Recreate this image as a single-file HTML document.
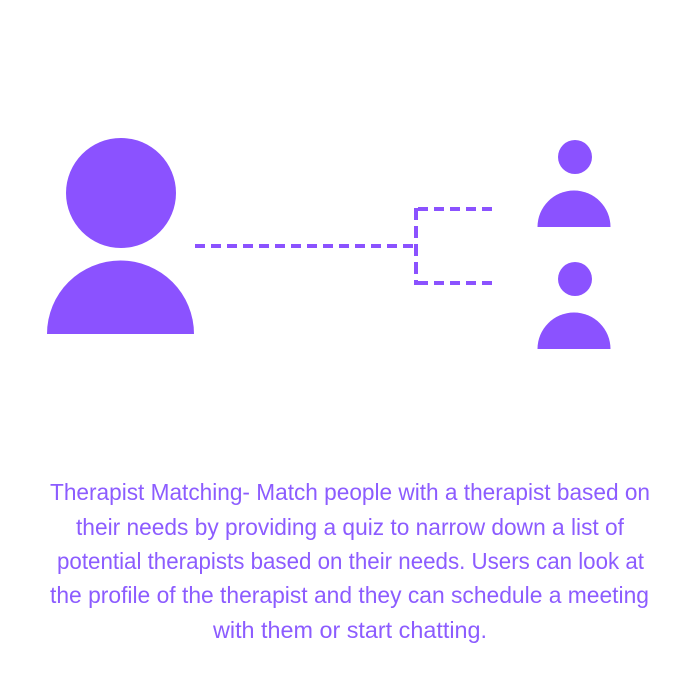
<!DOCTYPE html>
<html><head><meta charset="utf-8"><style>
html,body{margin:0;padding:0;background:#fff;}
svg{display:block}
</style></head><body>
<svg width="700" height="700" viewBox="0 0 700 700">
  <g fill="#8b52ff">
    <circle cx="121" cy="193" r="55"/>
    <path d="M47,334 A73.5,73.5 0 0 1 194,334 Z"/>
  </g>
  <g stroke="#8b52ff" stroke-width="4" fill="none" stroke-dasharray="10,6">
    <line x1="195" y1="246" x2="416" y2="246"/>
    <line x1="416" y1="208" x2="416" y2="285" stroke-dasharray="12,6"/>
    <line x1="418" y1="209" x2="496" y2="209"/>
    <line x1="418" y1="283" x2="496" y2="283"/>
  </g>
  <g fill="#8b52ff">
    <circle cx="575" cy="157" r="17"/>
    <path d="M537.5,227 A36.5,36.5 0 0 1 610.5,227 Z"/>
  </g>
  <g fill="#8b52ff">
    <circle cx="575" cy="279" r="17"/>
    <path d="M537.5,349 A36.5,36.5 0 0 1 610.5,349 Z"/>
  </g>
  <g fill="#8c5cff" font-family="Liberation Sans, sans-serif" font-size="23">
    <text x="50" y="500" textLength="600" lengthAdjust="spacingAndGlyphs">Therapist Matching- Match people with a therapist based on</text>
    <text x="76" y="535" textLength="548" lengthAdjust="spacingAndGlyphs">their needs by providing a quiz to narrow down a list of</text>
    <text x="57" y="569" textLength="587" lengthAdjust="spacingAndGlyphs">potential therapists based on their needs. Users can look at</text>
    <text x="50" y="603" textLength="599" lengthAdjust="spacingAndGlyphs">the profile of the therapist and they can schedule a meeting</text>
    <text x="213" y="638" textLength="274" lengthAdjust="spacingAndGlyphs">with them or start chatting.</text>
  </g>
</svg>
</body></html>
